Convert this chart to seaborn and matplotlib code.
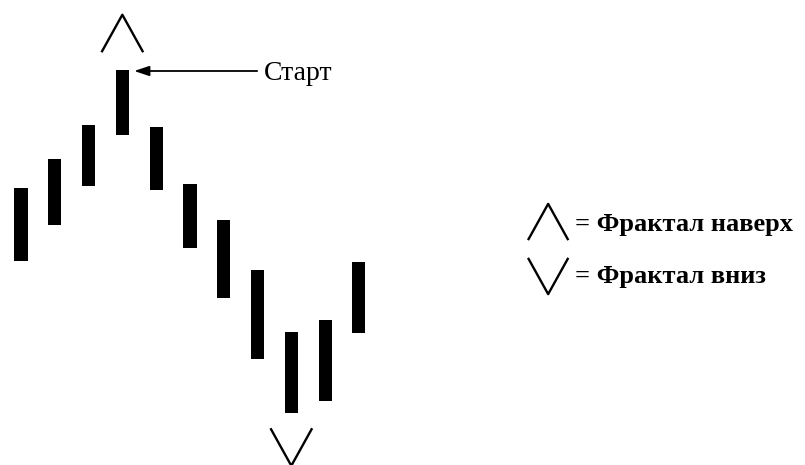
import numpy as np
import pandas as pd
import matplotlib
matplotlib.use("Agg")
import matplotlib.pyplot as plt
from matplotlib.path import Path
import seaborn as sns

# Bars (price units, arbitrary)
bar_idx = [1, 2, 3, 4, 5, 6, 7, 8, 9, 10, 11]
highs = [27.7, 30.6, 34.0, 39.5, 33.8, 28.1, 24.5, 19.5, 13.3, 14.5, 20.3]
lows = [20.4, 24.0, 27.9, 33.0, 27.5, 21.7, 16.7, 10.6, 5.2, 6.4, 13.2]

up_bar = 4
down_bar = 9
start_label = "Старт"
legend_labels = ["= Фрактал наверх", "= Фрактал вниз"]

df = pd.DataFrame({"bar": bar_idx, "high": highs, "low": lows})

sns.set_style("white")
plt.rcParams["font.family"] = ["Liberation Serif", "DejaVu Serif"]
plt.rcParams["text.color"] = "black"

fig = plt.figure(figsize=(8.05, 4.65), dpi=100)
ax = fig.add_axes([0, 0, 1, 1])
ax.set_xlim(0.38, 24.2)
ax.set_ylim(0, 46.5)
ax.axis("off")

# price bars
ax.bar(df["bar"], df["high"] - df["low"], bottom=df["low"], width=0.39,
       color="black", linewidth=0)

# fractal markers
up_marker = Path([(-1, -0.9), (0, 0.9), (1, -0.9)])
down_marker = Path([(-1, 0.9), (0, -0.9), (1, 0.9)])

up_row = df[df["bar"] == up_bar]
down_row = df[df["bar"] == down_bar]
frac = pd.DataFrame({
    "x": [up_bar, down_bar],
    "y": [up_row["high"].iloc[0] + 3.65, down_row["low"].iloc[0] - 3.4],
})
sns.scatterplot(x=frac["x"].iloc[:1], y=frac["y"].iloc[:1], marker=up_marker,
                s=30 ** 2, facecolor="none", edgecolor="black", linewidth=1.7, ax=ax)
sns.scatterplot(x=frac["x"].iloc[1:], y=frac["y"].iloc[1:], marker=down_marker,
                s=30 ** 2, facecolor="none", edgecolor="black", linewidth=1.7, ax=ax)

# start arrow
top4 = up_row["high"].iloc[0]
ax.annotate("", xy=(up_bar + 0.35, top4 - 0.1), xytext=(up_bar + 3.99, top4 - 0.1),
            arrowprops=dict(arrowstyle="-|>,head_length=0.9,head_width=0.3",
                            color="black", lw=1.3, shrinkA=0, shrinkB=0))
ax.text(up_bar + 4.2, top4 - 0.4, start_label, fontsize=20, va="center", ha="left")

# legend
leg_x = 16.6
ax.scatter([leg_x], [24.3], marker=up_marker, s=29 ** 2, facecolor="none",
           edgecolor="black", linewidth=1.7)
ax.scatter([leg_x], [18.9], marker=down_marker, s=29 ** 2, facecolor="none",
           edgecolor="black", linewidth=1.7)
ax.text(leg_x + 0.8, 24.1, legend_labels[0], fontsize=19, fontweight="bold",
        va="center", ha="left")
ax.text(leg_x + 0.8, 18.8, legend_labels[1], fontsize=19, fontweight="bold",
        va="center", ha="left")

fig.savefig("out.png", dpi=100, facecolor="white")
